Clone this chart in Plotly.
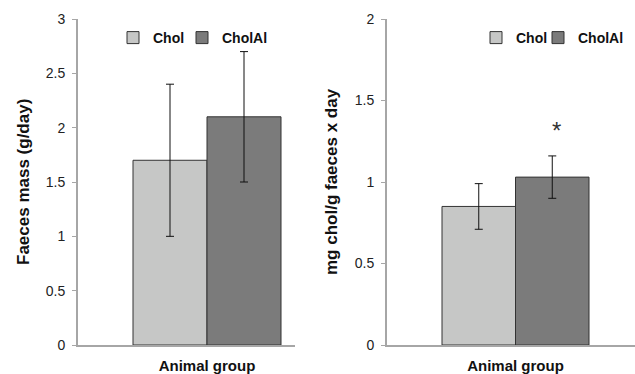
import plotly.graph_objects as go

# ---- data ----
categories = ["Animal group"]
series_names = ["Chol", "CholAl"]
mass_values = [1.7, 2.1]
mass_errors = [0.7, 0.6]
chol_values = [0.85, 1.03]
chol_errors = [0.14, 0.13]
mass_ticks = [0, 0.5, 1, 1.5, 2, 2.5, 3]
chol_ticks = [0, 0.5, 1, 1.5, 2]
colors = ["#c6c7c6", "#7b7b7b"]

W, H = 635, 374
FONT = "Liberation Sans, Arial, sans-serif"


def px_x(p):
    return p / W


def px_y(p):
    return 1 - p / H


ydom = [px_y(345), px_y(19)]
gap1 = 1 - 148 / 217
gap2 = 1 - 147 / 248
w1 = (1 - gap1) / 2
w2 = (1 - gap2) / 2

fig = go.Figure()

legend_ids = [["legend", "legend2"], ["legend3", "legend4"]]
panels = [("x", "y", mass_values, mass_errors, w1), ("x2", "y2", chol_values, chol_errors, w2)]
for p, (xa, ya, vals, errs, bw) in enumerate(panels):
    for i, name in enumerate(series_names):
        fig.add_trace(go.Bar(
            x=categories, y=[vals[i]], name=name,
            width=bw, offset=-bw + i * bw,
            marker=dict(color=colors[i], line=dict(color="#333333", width=1)),
            error_y=dict(type="data", array=[errs[i]], color="#111111", thickness=1, width=4),
            xaxis=xa, yaxis=ya, legend=legend_ids[p][i],
        ))

axis_common = dict(
    showline=True, linecolor="#a6a6a6", linewidth=2, showgrid=False, zeroline=False,
    automargin=False,
)
xtick_font = dict(size=15, family=FONT, color="#111111", weight="bold")
ytick_font = dict(size=14, family=FONT, color="#222222")
legend_font = dict(size=14, family=FONT, color="#111111", weight="bold")


def make_legend(text_px):
    return dict(orientation="h", x=px_x(text_px - 40), xanchor="left",
                y=px_y(38), yanchor="middle", font=legend_font,
                bgcolor="rgba(0,0,0,0)", itemwidth=30)


fig.update_layout(
    width=W, height=H,
    margin=dict(l=0, r=0, t=0, b=0, autoexpand=False),
    paper_bgcolor="white", plot_bgcolor="white",
    barmode="group",
    font=dict(family=FONT, size=14, color="#222222"),
    showlegend=True,
    xaxis=dict(domain=[px_x(78), px_x(295)], anchor="y", type="category",
               range=[-(207 - 78) / 217, (295 - 207) / 217],
               ticks="outside", ticklen=6, tickcolor="rgba(0,0,0,0)",
               tickfont=xtick_font, **axis_common),
    yaxis=dict(domain=ydom, anchor="x", range=[0, 3], tickvals=mass_ticks,
               ticktext=[f"{t:g}" for t in mass_ticks],
               ticks="outside", ticklen=4, tickcolor="#a6a6a6",
               ticklabelstandoff=4, tickfont=ytick_font, **axis_common),
    xaxis2=dict(domain=[px_x(387), 1.0], anchor="y2", type="category",
                range=[-(515.5 - 387) / 248, (635 - 515.5) / 248],
                ticks="outside", ticklen=6, tickcolor="rgba(0,0,0,0)",
                tickfont=xtick_font, **axis_common),
    yaxis2=dict(domain=ydom, anchor="x2", range=[0, 2], tickvals=chol_ticks,
                ticktext=[f"{t:g}" for t in chol_ticks],
                ticks="outside", ticklen=4, tickcolor="#a6a6a6",
                ticklabelstandoff=4, tickfont=ytick_font, **axis_common),
    legend=make_legend(153),
    legend2=make_legend(222),
    legend3=make_legend(516),
    legend4=make_legend(578),
)

# axis titles
fig.add_annotation(text="<b>Faeces mass (g/day)</b>", xref="paper", yref="paper",
                   x=px_x(24), y=px_y(182), xanchor="center", yanchor="middle",
                   textangle=-90, showarrow=False,
                   font=dict(size=17, family=FONT, color="#111111"))
fig.add_annotation(text="<b>mg chol/g faeces x day</b>", xref="paper", yref="paper",
                   x=px_x(332), y=px_y(182), xanchor="center", yanchor="middle",
                   textangle=-90, showarrow=False,
                   font=dict(size=17, family=FONT, color="#111111"))

# significance marker above CholAl error bar
fig.add_annotation(text="*", xref="x2", yref="y2",
                   x=w2 / 2, y=chol_values[1] + chol_errors[1],
                   yanchor="bottom", yshift=10, xshift=4, showarrow=False,
                   font=dict(size=24, family=FONT, color="#333333"))

fig.write_html("out.html", config={"displayModeBar": False},
               post_script="document.body.style.margin='0';")
